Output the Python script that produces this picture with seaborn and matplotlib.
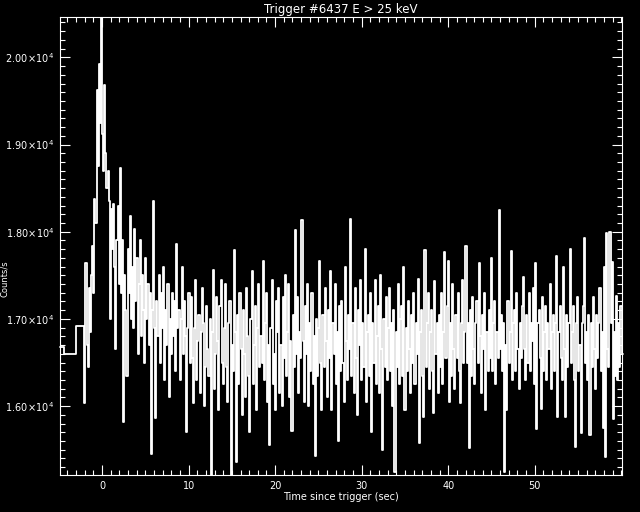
import numpy as np
import pandas as pd
import matplotlib
matplotlib.use("Agg")
import matplotlib.pyplot as plt
import seaborn as sns
from matplotlib.ticker import MultipleLocator

# --- Data ---
TITLE = "Trigger #6437 E > 25 keV"
XLABEL = "Time since trigger (sec)"
YLABEL = "Counts/s"

# 1.024 s pre-trigger bins (start times) and rates
PRE_T = [-4.86, -4.43, -2.99]
PRE_RATE = [16674, 16601, 16923]

# fine bins after -2.048 s
FINE_T0 = -2.048
FINE_DT = 0.128

RATE_BURST = [
    16040, 17640, 16700, 16450, 17350, 16850, 17500, 17840,
    17300, 18370, 18100, 19620, 18750, 19920, 19250, 20450,
    19120, 18700, 19680, 18900, 18500, 18700, 18350, 17000,
    18260, 17800, 18320, 17600, 16650, 17900, 18300, 17400,
    18730, 17300, 17900, 15820, 17500, 17100, 16340, 17800,
    17300, 18180, 17000, 17600, 16900, 18030, 17200, 17700,
]
RATE_DECAY = [
    16600, 17400, 17900, 16800, 17500, 17100, 16500, 17700,
    17000, 17400, 16700, 17300, 15450, 17100, 18350, 16900,
    15860, 17200, 16800, 17500, 16500, 17300, 16900, 17600,
    16300, 17100, 16700, 17400, 16100, 17000, 16600, 17300,
    16800, 17200, 16400, 17860, 16900, 17100, 16300, 17000,
    17600, 16600, 17200, 16800, 15700, 16900, 17300, 16500,
]
RATE_TAIL_A = [
    17250, 16550, 16040, 16900, 17450, 16300, 16750, 17050,
    16150, 16850, 17350, 16950, 16000, 16450, 17150, 16650,
    16350, 17000, 15210, 16850, 17560, 16200, 16600, 17250,
    16750, 15950, 17150, 17450, 16500, 16250, 16900, 17400,
    16450, 16050, 16950, 17200, 15210, 16700, 16400, 17790,
    16850, 15360, 17050, 16250, 17300, 16650, 15900, 17100,
    16600, 16100, 17350, 16800, 16350, 15700, 17000, 17550,
    16250, 16700, 17150, 15950, 16900, 17400, 16450, 16800,
]
RATE_TAIL_B = [
    16500, 17670, 16300, 16950, 17300, 16050, 16700, 15550,
    16900, 17450, 16250, 16600, 15950, 17200, 16850, 17350,
    16150, 16700, 16000, 17250, 16550, 17500, 16350, 16850,
    17400, 16100, 16750, 15720, 17050, 16450, 18020, 16600,
    17250, 16150, 16850, 16550, 18130, 16750, 16050, 17150,
    16600, 17400, 16000, 16950, 16400, 17300, 16250, 16800,
    15430, 17000, 16350, 16900, 17670, 16500, 15950, 17050,
]
RATE_TAIL_C = [
    16450, 17350, 16750, 16100, 17100, 16550, 17550, 15950,
    16950, 16600, 17400, 16250, 16850, 15600, 17150, 16400,
    17200, 16500, 16050, 17600, 16750, 16300, 17050, 16650,
    18150, 16350, 16950, 16150, 17350, 16550, 15900, 17100,
    16700, 17450, 16300, 16950, 16450, 17800, 16050, 16850,
    17050, 16350, 17300, 15700, 16950, 16500, 17450, 16250,
    16800, 17150, 16150, 17500, 16650, 15500, 17000, 16450,
    17250, 16300, 16900, 17350, 16400, 16950, 16000, 17100,
    15250, 16850, 16450, 17400, 16250, 17000, 17150, 16350,
]
RATE_TAIL_D = [
    17590, 15960, 16900, 16400, 17200, 16650, 16150, 17050,
    16500, 17300, 16250, 16950, 16600, 17460, 15580, 16850,
    17100, 16350, 15880, 17790, 16450, 16950, 17300, 16200,
    16850, 17100, 16400, 15920, 17430, 16600, 16950, 16150,
    17050, 16450, 17300, 16250, 16850, 17770, 16550, 17150,
    17670, 16050, 16950, 16350, 17400, 16650, 16200, 17050,
    16550, 17300, 16400, 16040, 16950, 17450, 16500, 16850,
    17840, 16500, 16950, 15520, 17100, 16350, 17250, 16650,
    16250, 16950, 17200, 16500, 17640, 16800, 16150, 17050,
    16650, 17300, 15960, 16850, 16400, 17100, 16550, 17700,
    16400, 16950, 17200, 16250, 16850, 16550, 18245, 16650,
    17050, 16400, 16950, 15250, 16700, 15960, 17200, 16500,
]
RATE_TAIL_E = [
    16850, 17780, 16300, 16950, 17100, 16400, 17300, 16650,
    16200, 16950, 16550, 17150, 17480, 16650, 16300, 17050,
    16500, 17300, 16400, 16950, 16750, 17350, 16250, 17640,
    15740, 16950, 17100, 16550, 15970, 17250, 16400, 16850,
    17150, 16300, 16950, 16650, 17400, 16200, 16850, 17050,
    16400, 16950, 17720, 15880, 16850, 17150, 16550, 16300,
    17600, 16650, 15880, 17050, 16450, 16950, 17800, 16500,
    16850, 17150, 16300, 15530, 16950, 17250, 16400, 16700,
    15690, 16950, 17150, 17930, 16500, 16850, 16300, 17050,
    15670, 16950, 16450, 17250, 16650, 16200, 17050, 16550,
    16950, 17350, 16400, 16850, 15750, 17600, 15420, 17990,
    16650, 16450, 18000, 16950, 17650, 15850, 16850, 16350,
    17260, 16300, 16950, 16450, 17150, 16600,
]

Y_TICKS = [16000, 17000, 18000, 19000, 20000]
Y_TICK_LABELS = [r"$1.60\!\times\!10^{4}$", r"$1.70\!\times\!10^{4}$",
                 r"$1.80\!\times\!10^{4}$", r"$1.90\!\times\!10^{4}$",
                 r"$2.00\!\times\!10^{4}$"]
X_TICKS = [0, 10, 20, 30, 40, 50]

# --- Build step data ---
fine = RATE_BURST + RATE_DECAY + RATE_TAIL_A + RATE_TAIL_B + RATE_TAIL_C + RATE_TAIL_D + RATE_TAIL_E
fine_t = FINE_T0 + FINE_DT * np.arange(len(fine))
t_all = np.concatenate([PRE_T, fine_t, [fine_t[-1] + FINE_DT]])
r_all = np.concatenate([PRE_RATE, fine, [fine[-1]]])
df = pd.DataFrame({"time": t_all, "rate": r_all})

# --- Style ---
sns.set_theme(style="ticks", rc={
    "figure.facecolor": "black",
    "axes.facecolor": "black",
    "axes.edgecolor": "white",
    "text.color": "white",
    "axes.labelcolor": "white",
    "xtick.color": "white",
    "ytick.color": "white",
})
plt.rcParams["font.family"] = ["DejaVu Sans"]
plt.rcParams["mathtext.fontset"] = "dejavusans"

fig = plt.figure(figsize=(6.4, 5.12), dpi=100)
ax = fig.add_axes([60 / 640, 1 - 475 / 512, 562 / 640, 458 / 512])

sns.lineplot(data=df, x="time", y="rate", ax=ax, color="white",
             drawstyle="steps-post", linewidth=1.3, antialiased=True,
             estimator=None, sort=False, clip_on=False)

ax.set_xlim(-4.86, 60.08)
ax.set_ylim(15210, 20463)

ax.set_xticks(X_TICKS)
ax.set_xticklabels([str(v) for v in X_TICKS])
ax.xaxis.set_minor_locator(MultipleLocator(1))
ax.set_yticks(Y_TICKS)
ax.set_yticklabels(Y_TICK_LABELS)
ax.yaxis.set_minor_locator(MultipleLocator(100))

ax.tick_params(which="both", direction="in", top=True, right=True,
               width=0.8, labelsize=7, colors="white")
ax.tick_params(which="major", length=7.5, pad=4)
ax.tick_params(which="minor", length=3.8)
for s in ax.spines.values():
    s.set_linewidth(0.8)
    s.set_color("white")

ax.set_xlabel(XLABEL, fontsize=7, labelpad=1)
ax.set_ylabel("")
ax.set_title(TITLE, fontsize=8.5, pad=3)
fig.text(0.007, 0.455, YLABEL, rotation=90, ha="center", va="center",
         fontsize=6, color="white")

fig.savefig("out.png", dpi=100, facecolor="black")
